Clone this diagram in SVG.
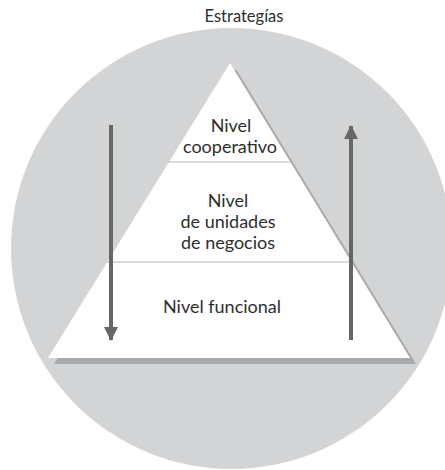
<svg xmlns="http://www.w3.org/2000/svg" width="445" height="470" viewBox="0 0 445 470">
  <defs>
    <style>
      .lbl { font-family: "Lato", "Liberation Sans", sans-serif; font-size: 18px; fill: #2e2e2e; text-anchor: middle; }
      .sep { stroke: #b4b4b4; stroke-width: 1.2; fill: none; }
      .arrow { stroke: #666666; stroke-width: 4; fill: none; }
    </style>
    <marker id="head" viewBox="0 0 14 18" refX="13" refY="9" markerWidth="14" markerHeight="18" markerUnits="userSpaceOnUse" orient="auto">
      <path d="M0,2 L14,9 L0,16 Z" fill="#666666"/>
    </marker>
  </defs>
  <rect width="445" height="470" fill="#ffffff"/>
  <text class="lbl" x="244" y="22" style="font-size:16.5px">Estrategías</text>
  <g id="circle">
    <circle cx="231.5" cy="248.5" r="220.5" fill="#d3d4d6"/>
  </g>
  <g id="pyramid">
    <polygon points="236,69 54,364 416,364" fill="#a9aaac"/>
    <polygon points="230,63 48,358 410,358" fill="#ffffff"/>
    <line class="sep" x1="168" y1="162" x2="291" y2="162"/>
    <line class="sep" x1="107" y1="262" x2="352" y2="262"/>
  </g>
  <g id="nivel-cooperativo">
    <text class="lbl" x="231" y="132">Nivel</text>
    <text class="lbl" x="230" y="153">cooperativo</text>
  </g>
  <g id="nivel-unidades">
    <text class="lbl" x="228" y="207">Nivel</text>
    <text class="lbl" x="228" y="228">de unidades</text>
    <text class="lbl" x="228" y="249">de negocios</text>
  </g>
  <g id="nivel-funcional">
    <text class="lbl" x="222" y="313">Nivel funcional</text>
  </g>
  <g id="connectors">
    <line class="arrow" x1="111" y1="125" x2="111" y2="340" marker-end="url(#head)"/>
    <line class="arrow" x1="351" y1="340" x2="351" y2="126" marker-end="url(#head)"/>
  </g>
</svg>
